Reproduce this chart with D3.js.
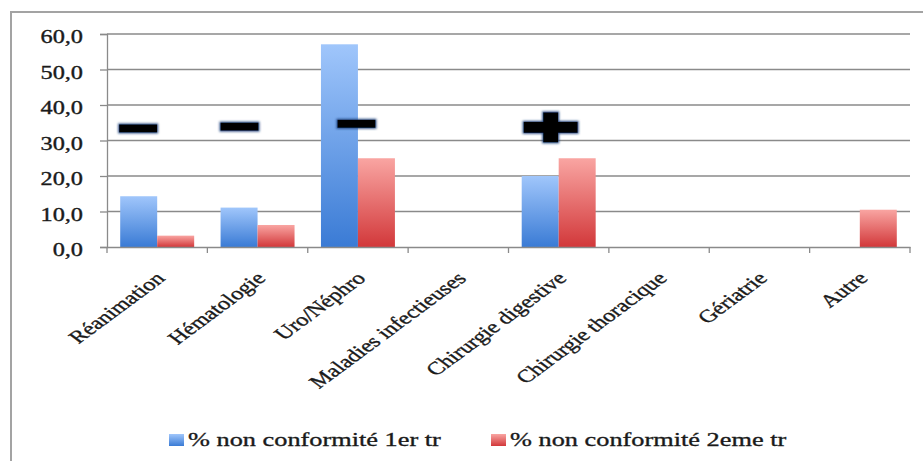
<!DOCTYPE html>
<html>
<head>
<meta charset="utf-8">
<script src="https://cdn.jsdelivr.net/npm/d3@7"></script>
<style>
  body { margin: 0; background: #fff; }
  svg { display: block; }
  text { font-family: "Liberation Serif", "Times New Roman", serif; fill: #1a1a1a; stroke: #1a1a1a; stroke-width: 0.35px; }
</style>
</head>
<body>
<script>
const categories = ['Réanimation', 'Hématologie', 'Uro/Néphro', 'Maladies infectieuses',
  'Chirurgie digestive', 'Chirurgie thoracique', 'Gériatrie', 'Autre'];
const series = ['% non conformité 1er tr', '% non conformité 2eme tr'];
const values1 = [14.3, 11.1, 57.1, null, 20.0, null, null, null];
const values2 = [3.2, 6.2, 25.0, null, 25.0, null, null, 10.5];
const yTicks = [0, 10, 20, 30, 40, 50, 60];
// hand drawn signs placed over some groups
const signCats = ['Réanimation', 'Hématologie', 'Uro/Néphro', 'Chirurgie digestive'];
const signTypes = ['-', '-', '-', '+'];
const signValues = [33.4, 33.9, 34.7, 33.7];
const signShift = [0.31, 0.32, 0.485, 0.42];

const width = 923, height = 461;
const sx = 1.35; // the original picture is stretched horizontally
const plot = { left: 107, right: 910, top: 34, bottom: 247 };

const svg = d3.select('body').append('svg')
  .attr('width', width)
  .attr('height', height);

const defs = svg.append('defs');
const grads = [['grad0', '#a0c6fb', '#3a7bd5'], ['grad1', '#f9a5a2', '#d2383a']];
grads.forEach(g => {
  const lg = defs.append('linearGradient').attr('id', g[0])
    .attr('x1', 0).attr('y1', 0).attr('x2', 0).attr('y2', 1);
  lg.append('stop').attr('offset', '0%').attr('stop-color', g[1]);
  lg.append('stop').attr('offset', '100%').attr('stop-color', g[2]);
});
const glow = defs.append('filter').attr('id', 'glow')
  .attr('x', '-30%').attr('y', '-80%').attr('width', '160%').attr('height', '260%');
glow.append('feMorphology').attr('in', 'SourceAlpha').attr('operator', 'dilate').attr('radius', 1).attr('result', 'd');
glow.append('feGaussianBlur').attr('in', 'd').attr('stdDeviation', 1.2).attr('result', 'b');
glow.append('feFlood').attr('flood-color', '#1d3f7a').attr('flood-opacity', 0.9);
glow.append('feComposite').attr('in2', 'b').attr('operator', 'in').attr('result', 's');
const merge = glow.append('feMerge');
merge.append('feMergeNode').attr('in', 's');
merge.append('feMergeNode').attr('in', 'SourceGraphic');

// outer frame
svg.append('path')
  .attr('d', `M11,${height} L11,12 L${width},12`)
  .attr('fill', 'none')
  .attr('stroke', '#a3a3a3')
  .attr('stroke-width', 2);

const x = d3.scaleBand()
  .domain(categories)
  .range([plot.left, plot.right]);

const x1 = d3.scaleBand()
  .domain([0, 1])
  .range([0, x.bandwidth()])
  .paddingOuter(0.357);

const y = d3.scaleLinear()
  .domain([0, 60])
  .range([plot.bottom, plot.top]);

// gridlines
svg.append('g')
  .selectAll('line')
  .data(yTicks.slice(1))
  .enter()
  .append('line')
  .attr('x1', plot.left)
  .attr('x2', plot.right)
  .attr('y1', d => y(d))
  .attr('y2', d => y(d))
  .attr('stroke', '#8a8a8a')
  .attr('stroke-width', 1.3);

// y axis
const yAxis = svg.append('g')
  .attr('transform', `translate(${plot.left},0)`)
  .call(d3.axisLeft(y).tickValues(yTicks).tickSize(7).tickFormat(() => ''));
yAxis.selectAll('path, line').attr('stroke', '#8a8a8a').attr('stroke-width', 1.3);

svg.append('g')
  .selectAll('text')
  .data(yTicks)
  .enter()
  .append('text')
  .attr('transform', d => `translate(83,${y(d) + 9}) scale(${sx},1)`)
  .attr('text-anchor', 'end')
  .style('font-size', '18px')
  .text(d => d.toFixed(1).replace('.', ','));

// bars
const rows = categories.map((c, i) => ({ cat: c, vals: [values1[i], values2[i]] }));
const groups = svg.append('g')
  .selectAll('g')
  .data(rows)
  .enter()
  .append('g')
  .attr('transform', d => `translate(${x(d.cat)},0)`);

groups.selectAll('rect')
  .data(d => d.vals.map((v, k) => ({ k, v })).filter(e => e.v !== null))
  .enter()
  .append('rect')
  .attr('x', d => x1(d.k))
  .attr('width', x1.bandwidth())
  .attr('y', d => y(d.v))
  .attr('height', d => y(0) - y(d.v))
  .attr('fill', d => `url(#grad${d.k})`);

// x axis
const xAxis = svg.append('g')
  .attr('transform', `translate(0,${plot.bottom})`)
  .call(d3.axisBottom(x).tickSize(0).tickFormat(''));
xAxis.select('path').attr('stroke', '#8a8a8a').attr('stroke-width', 1.3);
xAxis.selectAll('.tick').remove();

svg.append('g')
  .selectAll('line')
  .data(categories.concat(['end']))
  .enter()
  .append('line')
  .attr('x1', (d, i) => i < categories.length ? x(d) : plot.right)
  .attr('x2', (d, i) => i < categories.length ? x(d) : plot.right)
  .attr('y1', plot.bottom)
  .attr('y2', plot.bottom + 6)
  .attr('stroke', '#8a8a8a')
  .attr('stroke-width', 1.3);

// category labels
svg.append('g')
  .selectAll('text')
  .data(categories)
  .enter()
  .append('text')
  .attr('transform', d => `translate(${x(d) + x.bandwidth() / 2 + 3},${plot.bottom + 28}) scale(${sx},1) rotate(-45)`)
  .attr('text-anchor', 'end')
  .attr('dy', '0.35em')
  .style('font-size', '18px')
  .text(d => d);

// signs
const signs = svg.append('g').attr('filter', 'url(#glow)');
signCats.forEach((c, i) => {
  const cx = x(c) + x.bandwidth() * signShift[i];
  const cy = y(signValues[i]);
  if (signTypes[i] === '-') {
    signs.append('rect')
      .attr('x', cx - 19).attr('y', cy - 4)
      .attr('width', 38).attr('height', 8)
      .attr('fill', '#000');
  } else {
    signs.append('rect')
      .attr('x', cx - 27).attr('y', cy - 5.5)
      .attr('width', 54).attr('height', 11)
      .attr('fill', '#000');
    signs.append('rect')
      .attr('x', cx - 7.5).attr('y', cy - 15)
      .attr('width', 15).attr('height', 30)
      .attr('fill', '#000');
  }
});

// legend
const legendX = [169, 491];
const legend = svg.append('g')
  .selectAll('g')
  .data(series)
  .enter()
  .append('g')
  .attr('transform', (d, i) => `translate(${legendX[i]},440)`);

legend.append('rect')
  .attr('x', 0)
  .attr('y', -6)
  .attr('width', 15)
  .attr('height', 12)
  .attr('fill', (d, i) => `url(#grad${i})`);

legend.append('text')
  .attr('transform', `translate(19,6) scale(${sx},1)`)
  .style('font-size', '19.5px')
  .text(d => d);
</script>
</body>
</html>
